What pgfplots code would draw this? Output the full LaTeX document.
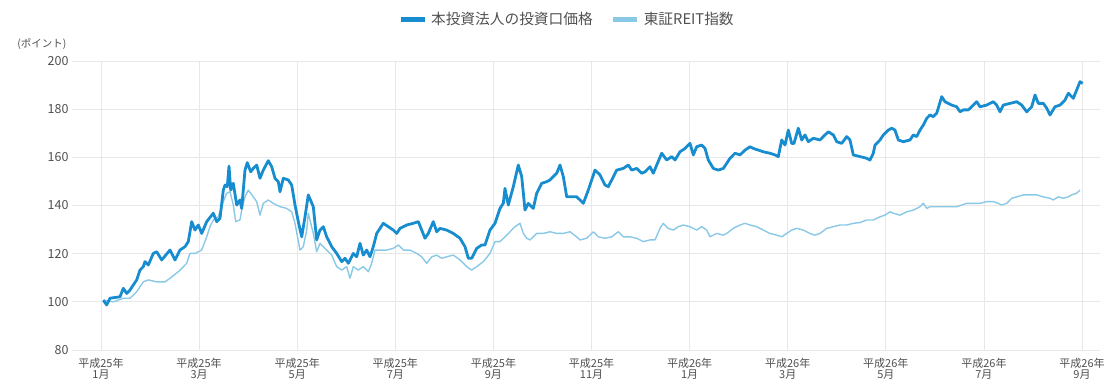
\documentclass[border=0pt]{standalone}
\usepackage{fontspec}
\setmainfont{Noto Sans CJK JP}
\usepackage{pgfplots}
\pgfplotsset{compat=1.18}
\definecolor{darkblue}{RGB}{23,141,207}
\definecolor{lightblue}{RGB}{137,201,230}
\definecolor{gridc}{RGB}{232,232,232}
\definecolor{txt}{RGB}{80,80,80}
\begin{document}
\begin{tikzpicture}
\begin{axis}[
  at={(0,0)}, anchor=south west,
  scale only axis, width=1028pt, height=289pt,
  xmin=72, xmax=1100, ymin=80, ymax=200,
  ytick={100,120,...,200},
  extra y ticks={80},
  extra y tick style={grid style={color=gray!55, line width=1.3pt}},
  xtick={101,199.1,297.2,395.3,493.4,591.5,689.6,787.7,885.8,983.9,1082},
  xticklabels={平成25年\\1月,平成25年\\3月,平成25年\\5月,平成25年\\7月,平成25年\\9月,平成25年\\11月,平成26年\\1月,平成26年\\3月,平成26年\\5月,平成26年\\7月,平成26年\\9月},
  xticklabel style={align=center, font=\fontsize{11}{11}\selectfont, text=txt, yshift=-5pt},
  yticklabel style={font=\fontsize{12.5}{12.5}\selectfont, text=txt},
  /pgf/number format/assume math mode=true,
  grid=major,
  major grid style={color=gridc, line width=0.8pt},
  axis line style={draw=none},
  tick style={draw=none},
  legend columns=2,
  legend style={at={(0.317,1.145)}, anchor=west, draw=none, fill=none,
    font=\fontsize{14.7}{14.7}\selectfont, text=txt, inner sep=0pt,
    /tikz/every odd column/.append style={column sep=2pt},
    /tikz/every even column/.append style={column sep=16pt}},
  legend cell align=left,
  legend image code/.code={\draw[#1, line width=5pt] (0pt,0pt) -- (24pt,0pt);},
]
\addlegendimage{color=darkblue}
\addlegendentry{本投資法人の投資口価格}
\addlegendimage{color=lightblue}
\addlegendentry{東証REIT指数}
\addplot[forget plot, color=lightblue, line width=1.4pt, line join=round] coordinates {
(103.3,100.7) (113.3,100.0) (123.3,101.5) (130,101.5) (136.7,104.2) (143.3,108.3)
(148.3,109.1) (156.7,108.3) (165,108.3) (170,109.8) (178.3,112.5) (186.7,116.0)
(190,120.1) (195,120.1) (201.7,121.5) (206.7,127.0) (210,131.2) (213.3,134.0)
(218.3,135.3) (223.3,141.6) (226.7,145.1) (230,145.7) (233.3,140.2) (235.7,133.3)
(240,134.0) (241.7,138.1) (245,143.6) (248.3,146.4) (253.3,143.6) (256.7,141.6)
(260,136.0) (263.3,140.9) (268.3,142.3) (273.3,140.9) (280,139.5) (286.7,138.8)
(291.7,137.4) (295,132.6) (300,121.5) (303.3,122.9) (306.7,129.8) (308.3,136.8)
(313.3,128.4) (316.7,120.8) (320,124.3) (323.3,122.9) (326.7,121.5) (331.7,119.4)
(336.7,114.6) (341.7,113.2) (346.7,114.6) (350,109.8) (353.3,114.6) (358.3,113.2)
(363.3,114.6) (368.3,112.5) (371.7,116.0) (375,121.5) (380,121.5) (386.7,121.5)
(393.3,122.2) (398.3,123.6) (403.3,121.5) (410,121.5) (416.7,120.1) (421.7,118.7)
(426.7,116.0) (431.7,118.7) (436.7,119.4) (441.7,118.1) (446.7,118.7) (453.3,119.4)
(460,117.4) (466.7,114.6) (471.7,113.2) (476.7,114.6) (483.3,116.7) (490,120.1)
(495,125.0) (500,125.0) (505,127.0) (510,129.1) (515,131.2) (520,132.6)
(523.3,128.4) (526.7,126.4) (530,125.7) (533.3,127.0) (536.7,128.4) (543.3,128.4)
(550,129.1) (556.7,128.4) (563.3,128.4) (570,129.1) (576.7,127.0) (580,125.7)
(586.7,126.4) (593.3,129.1) (598.3,127.0) (605,126.4) (611.7,127.0) (618.3,129.1)
(623.3,127.0) (630,127.0) (636.7,126.4) (643.3,125.0) (650,125.7) (655,125.7)
(660,130.5) (663.3,132.6) (668.3,130.5) (673.3,129.8) (678.3,131.2) (683.3,131.9)
(690,131.2) (696.7,129.8) (701.7,131.2) (706.7,129.8) (710,127.0) (716.7,128.4)
(723.3,127.7) (726.7,128.4) (733.3,130.5) (740,131.9) (745,132.6) (750,131.9)
(756.7,131.2) (763.3,129.8) (770,128.4) (776.7,127.7) (781.7,127.0) (786.7,128.4)
(791.7,129.8) (796.7,130.5) (803.3,129.8) (810,128.4) (815,127.7) (820,128.4)
(826.7,130.5) (833.3,131.2) (840,131.9) (846.7,131.9) (853.3,132.6) (860,132.9)
(866.7,134.0) (873.3,134.0) (880,135.3) (885,136.0) (890,137.4) (893.3,136.8)
(900,136.0) (906.7,137.4) (913.3,138.1) (920,139.5) (923.3,140.9) (926.7,138.8)
(930,139.5) (936.7,139.5) (943.3,139.5) (950,139.5) (956.7,139.5) (961.7,140.2)
(966.7,140.9) (973.3,140.9) (980,140.9) (986.7,141.6) (993.3,141.6) (998.3,140.9)
(1001.7,140.2) (1006.7,140.9) (1011.7,143.0) (1016.7,143.6) (1023.3,144.4) (1030,144.4)
(1036.7,144.4) (1043.3,143.6) (1050,143.0) (1053.3,142.3) (1058.3,143.6) (1063.3,143.0)
(1068.3,143.6) (1071.7,144.4) (1076.7,145.1) (1080,146.4)
};
\addplot[forget plot, color=darkblue, line width=2.8pt, line join=round] coordinates {
(103.3,100.7) (106.7,98.7) (110,101.5) (120,102.1) (123.3,105.6) (126.7,103.5)
(130,104.9) (133.3,107.0) (136.7,109.1) (140,113.2) (143.3,114.6) (145,116.7)
(148.3,115.3) (153.3,120.1) (156.7,120.8) (161.7,117.4) (170,121.5) (175,117.4)
(180,121.5) (185,122.9) (188.3,125.0) (191.7,133.3) (195,129.8) (198.3,131.9)
(201.7,128.4) (206.7,133.3) (213.3,136.8) (216.7,133.3) (220,134.7) (223.3,146.4)
(225,148.5) (227.3,147.8) (229,156.4) (230.7,146.4) (233.3,149.2) (236.7,140.2)
(240,142.3) (241.7,138.8) (245,154.7) (247.3,157.8) (250.7,154.0) (253.3,155.4)
(256.7,156.8) (260,151.3) (263.3,154.7) (268.3,158.6) (271.7,156.1) (275,151.3)
(278.3,149.9) (280,145.7) (283.3,151.3) (288.3,150.6) (291.7,148.5) (295,140.2)
(298.3,133.3) (301.7,127.0) (305,135.3) (308.3,144.4) (313.3,139.5) (316.7,125.7)
(320,129.8) (323.3,131.2) (326.7,127.0) (331.7,122.9) (336.7,120.1) (341.7,116.7)
(345,118.1) (348.3,116.0) (353.3,120.1) (356.7,118.7) (360,124.3) (363.3,119.4)
(366.7,121.5) (370,118.7) (373.3,122.9) (376.7,128.4) (383.3,132.6) (388.3,131.2)
(393.3,129.8) (396.7,128.4) (400,130.5) (406.7,131.9) (413.3,132.6) (418.3,133.3)
(421.7,129.8) (425,126.4) (428.3,128.4) (433.3,133.3) (436.7,129.1) (440,130.5)
(446.7,129.8) (453.3,128.4) (460,126.4) (465,122.9) (468.3,118.1) (471.7,118.1)
(476.7,122.2) (481.7,123.6) (485,123.6) (490,129.8) (495,132.6) (500,138.8)
(503.3,140.9) (505,147.1) (508.3,140.2) (513.3,147.8) (518.3,156.8) (521.7,152.0)
(525,138.1) (528.3,140.9) (533.3,138.8) (536.7,145.1) (541.7,149.2) (546.7,149.9)
(550,150.6) (553.3,152.0) (556.7,153.4) (560,156.8) (563.3,152.0) (566.7,143.6)
(573.3,143.6) (576.7,143.6) (580,142.3) (583.3,140.9) (588.3,146.4) (595,154.7)
(600,152.7) (605,148.5) (608.3,147.8) (611.7,150.6) (616.7,154.7) (623.3,155.4)
(628.3,156.8) (631.7,154.7) (636.7,155.4) (641.7,153.4) (645,154.0) (650,156.1)
(653.3,153.4) (656.7,156.8) (661.7,161.7) (666.7,158.9) (671.7,160.3) (675,158.9)
(680,162.3) (685,163.7) (690,165.8) (693.3,161.0) (696.7,164.4) (701.7,165.1)
(705,163.7) (708.3,158.9) (713.3,155.4) (718.3,154.7) (723.3,155.4) (726.7,157.5)
(730,159.6) (735,161.7) (740,161.0) (745,163.0) (750,164.4) (753.3,163.7)
(758.3,163.0) (763.3,162.3) (770,161.7) (775,161.0) (778.3,160.3) (781.7,167.2)
(785,165.1) (788.3,171.3) (791.7,165.8) (794,165.8) (798.3,172.1) (801.7,167.2)
(805,169.3) (808.3,166.5) (813.3,167.9) (820,167.2) (825,169.3) (828.3,170.6)
(833.3,169.3) (836.7,166.5) (841.7,165.8) (846.7,168.6) (850,167.2) (853.3,161.0)
(860,160.3) (866.7,159.6) (870,158.9) (873.3,161.7) (875,165.1) (880,167.2)
(883.3,169.3) (888.3,171.3) (891.7,172.1) (895,171.3) (898.3,167.2) (903.3,166.5)
(910,167.2) (913.3,169.3) (916.7,168.6) (920,171.3) (923.3,173.4) (926.7,176.2)
(930,177.6) (933.3,176.9) (936.7,178.3) (941.7,185.2) (945,183.1) (948.3,182.4)
(951.7,181.7) (956.7,181.0) (960,178.9) (963.3,179.7) (968.3,179.7) (971.7,181.0)
(976.7,183.1) (980,181.0) (986.7,181.7) (993.3,183.1) (996.7,181.7) (1000,178.9)
(1003.3,181.7) (1010,182.4) (1016.7,183.1) (1021.7,181.7) (1026.7,178.9) (1031.7,181.0)
(1035,185.9) (1038.3,182.4) (1043.3,182.4) (1046.7,180.4) (1050,177.6) (1055,181.0)
(1060,181.7) (1065,183.8) (1068.3,186.6) (1073.3,184.5) (1076.7,188.0) (1080,191.4)
(1082.7,190.7)
};
\end{axis}
\node[font=\fontsize{10.5}{10.5}\selectfont, text=txt] at ([xshift=-30pt,yshift=17pt]current axis.north west) {(ポイント)};
\pgfresetboundingbox
\path[use as bounding box] (-72pt,-28pt) rectangle (1034pt,350pt);
\end{tikzpicture}
\end{document}
